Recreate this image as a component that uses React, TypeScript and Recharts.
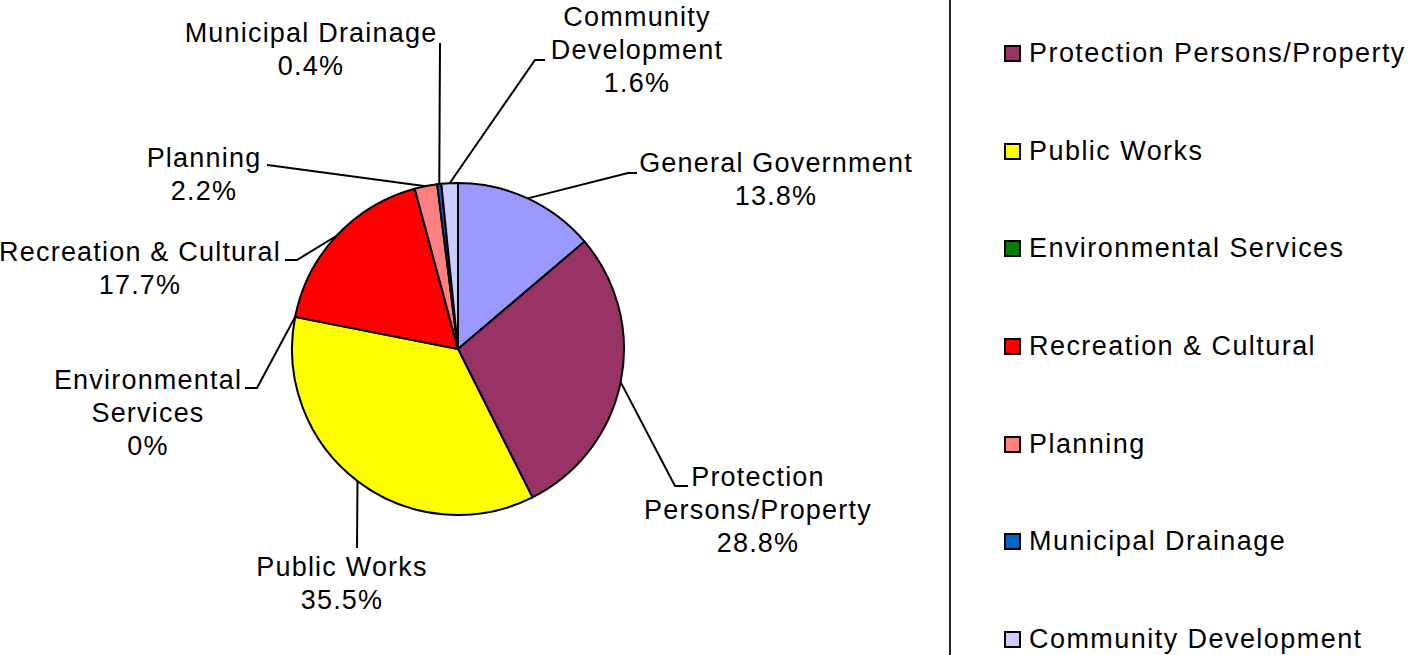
import { Cell, Legend, Pie, PieChart } from "recharts";

// Share of spending by department (%), clockwise from 12 o'clock.
const NAMES = [
  "General Government",
  "Protection Persons/Property",
  "Public Works",
  "Environmental Services",
  "Recreation & Cultural",
  "Planning",
  "Municipal Drainage",
  "Community Development",
];
const VALUES = [13.8, 28.8, 35.5, 0, 17.7, 2.2, 0.4, 1.6];
const COLORS = [
  "#9999FF",
  "#993366",
  "#FFFF00",
  "#008000",
  "#FF0000",
  "#FF8080",
  "#0066CC",
  "#CCCCFF",
];
// how each data label wraps
const LABEL_LINES = [
  ["General Government"],
  ["Protection", "Persons/Property"],
  ["Public Works"],
  ["Environmental", "Services"],
  ["Recreation & Cultural"],
  ["Planning"],
  ["Municipal Drainage"],
  ["Community", "Development"],
];

const DATA = NAMES.map((name, i) => ({ name, value: VALUES[i] }));

// leader elbow (e), line end (h) and text centre (t), relative to pie centre
const LABEL_LAYOUT = [
  { ex: 170, ey: -176, hx: 179, hy: -176, tx: 318, ty: -186 },
  { ex: 217, ey: 137, hx: 230, hy: 137, tx: 300, ty: 128 },
  { ex: -101, ey: 199, hx: -101, hy: 199, tx: -116, ty: 218 },
  { ex: -201, ey: 39, hx: -213, hy: 39, tx: -310, ty: 31 },
  { ex: -161, ey: -89, hx: -173, hy: -89, tx: -318, ty: -97 },
  { ex: -183, ey: -183, hx: -191, hy: -184, tx: -254, ty: -191 },
  { ex: -18, ey: -306, hx: -18, hy: -306, tx: -147, ty: -316 },
  { ex: 77, ey: -289, hx: 87, hy: -289, tx: 179, ty: -332 },
];

const FONT = "'Liberation Sans', Arial, sans-serif";
const RAD = Math.PI / 180;

function renderLabel(props: any) {
  const { cx, cy, midAngle, outerRadius, index } = props;
  const sx = cx + outerRadius * Math.cos(-midAngle * RAD);
  const sy = cy + outerRadius * Math.sin(-midAngle * RAD);
  const L = LABEL_LAYOUT[index];
  const lines = [...LABEL_LINES[index], `${VALUES[index]}%`];
  return (
    <g key={`lbl-${index}`}>
      <polyline
        points={`${sx},${sy} ${cx + L.ex},${cy + L.ey} ${cx + L.hx},${cy + L.hy}`}
        fill="none"
        stroke="#000"
        strokeWidth={2}
      />
      <text
        x={cx + L.tx}
        y={cy + L.ty}
        textAnchor="middle"
        dominantBaseline="central"
        fontFamily={FONT}
        fontSize={27}
        letterSpacing={1.2}
        fill="#000"
      >
        {lines.map((l, i) => (
          <tspan key={i} x={cx + L.tx} dy={i === 0 ? 0 : 33}>
            {l}
          </tspan>
        ))}
      </text>
    </g>
  );
}

function renderLegend() {
  return (
    <div
      style={{
        position: "absolute",
        left: 0,
        top: 0,
        width: 520,
        height: 860,
        borderLeft: "2px solid #222",
        fontFamily: FONT,
      }}
    >
      {NAMES.map((n, i) => (
        <div
          key={n}
          style={{
            height: 97.7,
            display: "flex",
            alignItems: "center",
            fontSize: 27,
            letterSpacing: 1.45,
            color: "#000",
            whiteSpace: "nowrap",
          }}
        >
          <span
            style={{
              display: "inline-block",
              width: 13,
              height: 13,
              marginLeft: 53,
              marginRight: 8,
              border: "2px solid #000",
              background: COLORS[i],
            }}
          />
          {n}
        </div>
      ))}
    </div>
  );
}

export default function App() {
  return (
    <div
      style={{
        position: "absolute",
        left: 0,
        top: 0,
        width: 1410,
        height: 655,
        overflow: "hidden",
        background: "#fff",
      }}
    >
      <PieChart width={1410} height={655} margin={{ top: 0, right: 0, bottom: 0, left: 0 }}>
        <Pie
          data={DATA}
          dataKey="value"
          nameKey="name"
          cx={458}
          cy={349}
          outerRadius={166}
          startAngle={90}
          endAngle={-270}
          stroke="#000"
          strokeWidth={2}
          label={renderLabel}
          labelLine={false}
          isAnimationActive={false}
        >
          {DATA.map((d, i) => (
            <Cell key={d.name} fill={COLORS[i]} />
          ))}
        </Pie>
        <Legend
          content={renderLegend}
          wrapperStyle={{ position: "absolute", left: 949, top: -93, width: 520, height: 860 }}
        />
      </PieChart>
    </div>
  );
}
